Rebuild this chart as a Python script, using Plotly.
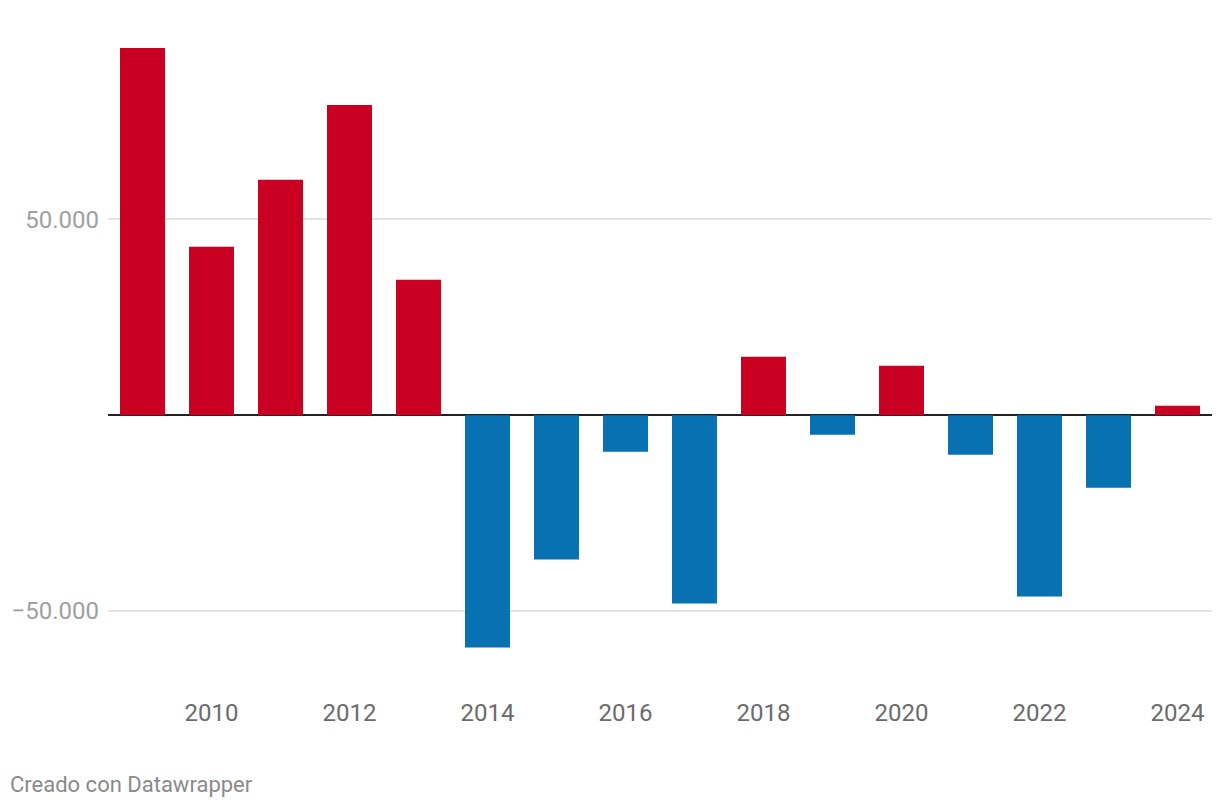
import plotly.graph_objects as go

years = list(range(2009, 2025))
values = [93750, 43000, 60080, 79200, 34570, -59300, -36860, -9310, -48090,
          14920, -4970, 12630, -10080, -46300, -18500, 2420]
x_ticks = [2010, 2012, 2014, 2016, 2018, 2020, 2022, 2024]
y_ticks = [-50000, 50000]
y_tick_labels = ["\u221250.000", "50.000"]

RED = "#c90022"
BLUE = "#0771b1"
colors = [RED if v >= 0 else BLUE for v in values]

fig = go.Figure(go.Bar(x=years, y=values, marker=dict(color=colors, line=dict(width=0)),
                       hoverinfo="x+y"))

# page body has an 8px margin; figure coordinates are offset accordingly
W, H = 1204, 792
L, R, T, B = 100, 0, 35, 137.5
plot_w = W - L - R
plot_h = H - T - B

fig.update_layout(
    width=W, height=H,
    margin=dict(l=L, r=R, t=T, b=B, pad=0),
    paper_bgcolor="white", plot_bgcolor="white",
    bargap=0.348,
    showlegend=False,
    font=dict(family="Roboto", size=24, color="#999999"),
    xaxis=dict(
        range=[2008.5, 2024.5],
        tickvals=x_ticks,
        ticktext=[str(t) for t in x_ticks],
        tickfont=dict(family="Roboto", size=24, color="#6b6b6b"),
        showgrid=False, zeroline=False, showline=False, ticks="",
        ticklabelstandoff=34,
        fixedrange=True,
    ),
    yaxis=dict(
        range=[-63000, 95000],
        tickvals=y_ticks,
        ticktext=y_tick_labels,
        tickfont=dict(family="Roboto", size=24, color="#a0a0a0"),
        showgrid=True, gridcolor="#e3e3e3", gridwidth=2,
        zeroline=True, zerolinecolor="#222222", zerolinewidth=2,
        showline=False, ticks="",
        ticklabelstandoff=8,
        fixedrange=True,
    ),
    annotations=[dict(
        text="Creado con Datawrapper",
        xref="paper", yref="paper",
        x=(0 - L) / plot_w, y=(H - B - 777) / plot_h,
        xanchor="left", yanchor="middle",
        showarrow=False,
        font=dict(family="Roboto", size=22, color="#8a8a8a"),
    )],
)

fig.write_html("out.html")
